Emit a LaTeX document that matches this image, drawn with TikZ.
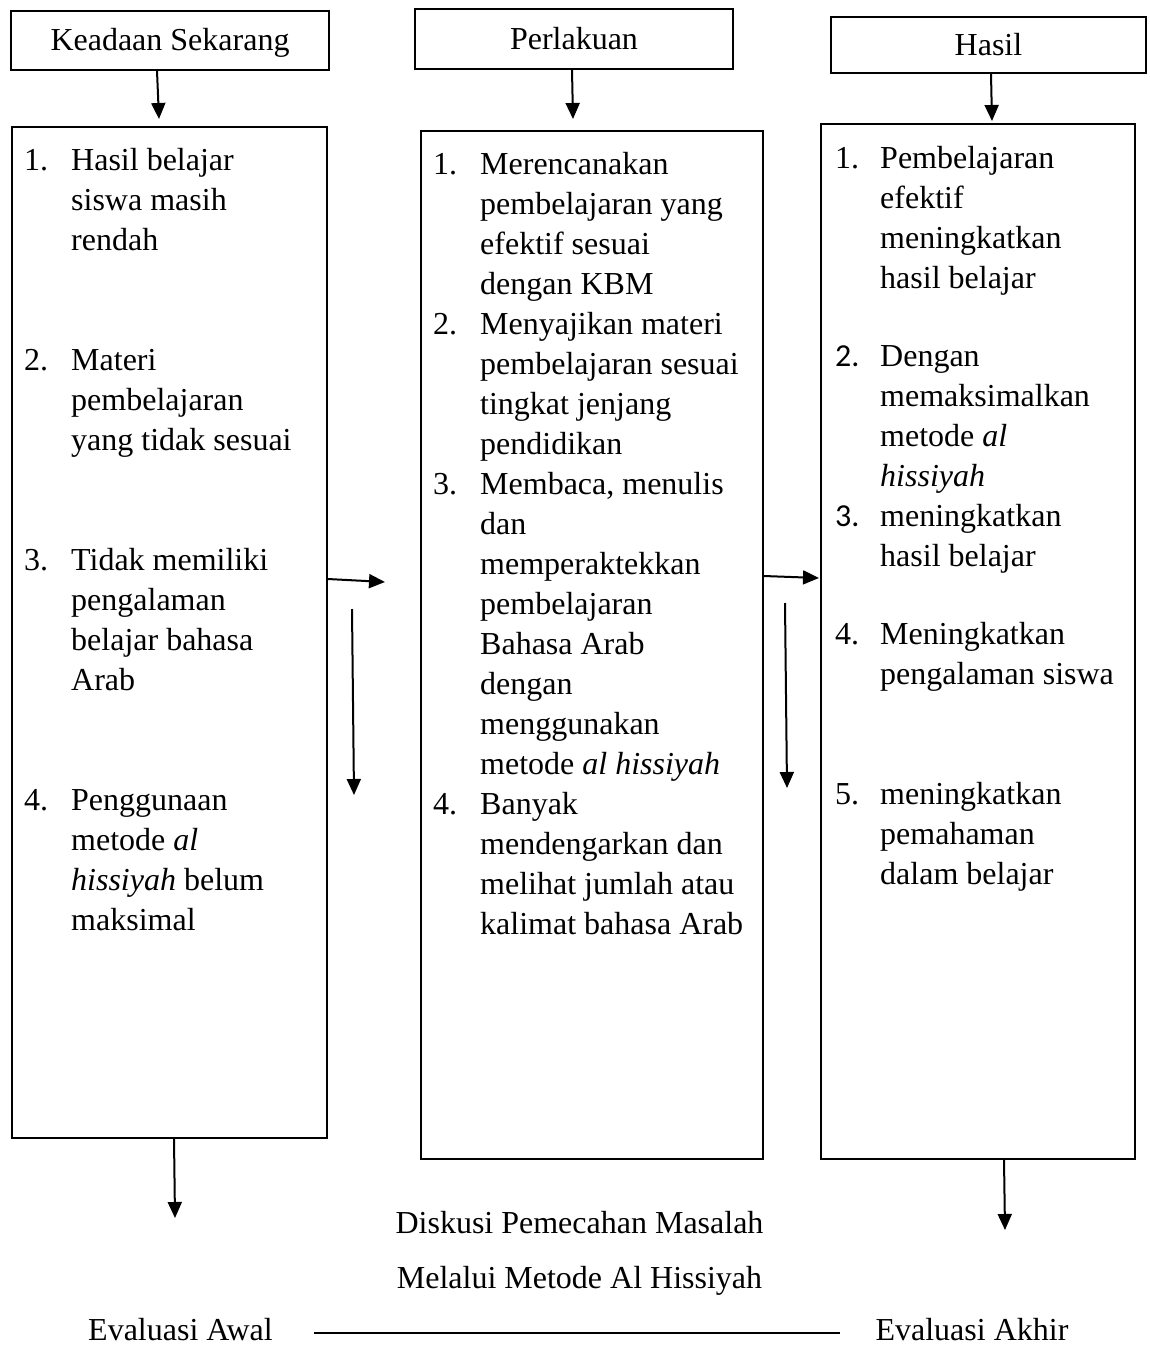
\documentclass[tikz,border=0pt]{standalone}
\usepackage{fontspec}
\setmainfont{Liberation Serif}
\newfontfamily\calib{Carlito}
\usetikzlibrary{arrows.meta}
\newcommand\fs{\fontsize{32}{40}\selectfont}
% name, x, first baseline, list of lines
\newcommand\txlines[4]{\foreach \l [count=\i from 0] in {#4}{\node[txt] (#1-\i) at (#2,#3+40*\i) {\l};}}
\begin{document}
\begin{tikzpicture}[x=1pt,y=-1pt,
  txt/.style={inner sep=0pt, anchor=base west, font=\fs},
  headbox/.style={draw, line width=2pt, inner sep=0pt, font=\fs, text height=21pt, text depth=0pt},
  colbox/.style={draw, line width=1.6pt, inner sep=0pt},
  arr/.style={line width=2pt, -{Triangle[length=16pt,width=14pt]}}]
\useasboundingbox (0,0) rectangle (1149,1346);

% header boxes
\node[headbox, minimum width=318pt, minimum height=59pt] (k1) at (170,40.5) {Keadaan Sekarang};
\node[headbox, minimum width=318pt, minimum height=60pt] (k2) at (574,39) {Perlakuan};
\node[headbox, minimum width=315pt, minimum height=56pt] (k3) at (988.5,45) {Hasil};

% column boxes
\node[colbox, minimum width=315pt, minimum height=1011pt] (c1) at (169.5,632.5) {};
\node[colbox, minimum width=342pt, minimum height=1028pt] (c2) at (592,645) {};
\node[colbox, minimum width=314pt, minimum height=1035pt] (c3) at (978,641.5) {};

% column 1
\node[txt] (c1n1) at (24,170) {1.};
\txlines{c1a}{71}{170}{Hasil belajar, siswa masih, rendah}
\node[txt] (c1n2) at (24,370) {2.};
\txlines{c1b}{71}{370}{Materi, pembelajaran, yang tidak sesuai}
\node[txt] (c1n3) at (24,570) {3.};
\txlines{c1c}{71}{570}{Tidak memiliki, pengalaman, belajar bahasa, Arab}
\node[txt] (c1n4) at (24,810) {4.};
\txlines{c1d}{71}{810}{Penggunaan, metode \textit{al}, \textit{hissiyah} belum, maksimal}

% column 2
\node[txt] (c2n1) at (433,174) {1.};
\txlines{c2a}{480}{174}{Merencanakan, pembelajaran yang, efektif sesuai, dengan KBM}
\node[txt] (c2n2) at (433,334) {2.};
\txlines{c2b}{480}{334}{Menyajikan materi, pembelajaran sesuai, tingkat jenjang, pendidikan}
\node[txt] (c2n3) at (433,494) {3.};
\txlines{c2c}{480}{494}{{Membaca, menulis}, dan, memperaktekkan, pembelajaran, Bahasa Arab, dengan, menggunakan, metode \textit{al hissiyah}}
\node[txt] (c2n4) at (433,814) {4.};
\txlines{c2d}{480}{814}{Banyak, mendengarkan dan, melihat jumlah atau, kalimat bahasa Arab}

% column 3
\node[txt] (c3n1) at (835,168) {1.};
\txlines{c3a}{880}{168}{Pembelajaran, efektif, meningkatkan, hasil belajar}
\node[txt, font=\calib\fs] (c3n2) at (835,366) {2.};
\txlines{c3b}{880}{366}{Dengan, memaksimalkan, metode \textit{al}, \textit{hissiyah}}
\node[txt, font=\calib\fs] (c3n3) at (835,526) {3.};
\txlines{c3c}{880}{526}{meningkatkan, hasil belajar}
\node[txt] (c3n4) at (835,644) {4.};
\txlines{c3d}{880}{644}{Meningkatkan, pengalaman siswa}
\node[txt] (c3n5) at (835,804) {5.};
\txlines{c3e}{880}{804}{meningkatkan, pemahaman, dalam belajar}

% bottom texts
\node[txt, anchor=base] (d1) at (579.5,1233) {Diskusi Pemecahan Masalah};
\node[txt, anchor=base] (d2) at (579.5,1288) {Melalui Metode Al Hissiyah};
\node[txt, anchor=base] (ea) at (180.5,1340) {Evaluasi Awal};
\node[txt, anchor=base] (ek) at (972,1340) {Evaluasi Akhir};

% helper coordinates
\coordinate (t1) at (159,119);
\coordinate (t2) at (573,119);
\coordinate (t3) at (992,121);
\coordinate (h1) at (385,582);
\coordinate (v1s) at (352,609);
\coordinate (v1e) at (354,795);
\coordinate (h2) at (819,578);
\coordinate (v2s) at (785,603);
\coordinate (v2e) at (787,788);
\coordinate (b1) at (175,1218);
\coordinate (b2) at (1005,1230);
\coordinate (ls) at (314,1333);
\coordinate (le) at (840,1333);
\coordinate (xa1) at (157,0);
\coordinate (xa2) at (572,0);
\coordinate (xa3) at (991,0);
\coordinate (ya1) at (0,579);
\coordinate (ya2) at (0,576);
\coordinate (xb1) at (174,0);
\coordinate (xb2) at (1004,0);

% arrows
\draw[arr] (k1.south -| xa1) -- (t1);
\draw[arr] (k2.south -| xa2) -- (t2);
\draw[arr] (k3.south -| xa3) -- (t3);
\draw[arr] (c1.east |- ya1) -- (h1);
\draw[arr] (v1s) -- (v1e);
\draw[arr] (c2.east |- ya2) -- (h2);
\draw[arr] (v2s) -- (v2e);
\draw[arr] (c1.south -| xb1) -- (b1);
\draw[arr] (c3.south -| xb2) -- (b2);
\draw[line width=1.6pt] (ls) -- (le);
\end{tikzpicture}
\end{document}
